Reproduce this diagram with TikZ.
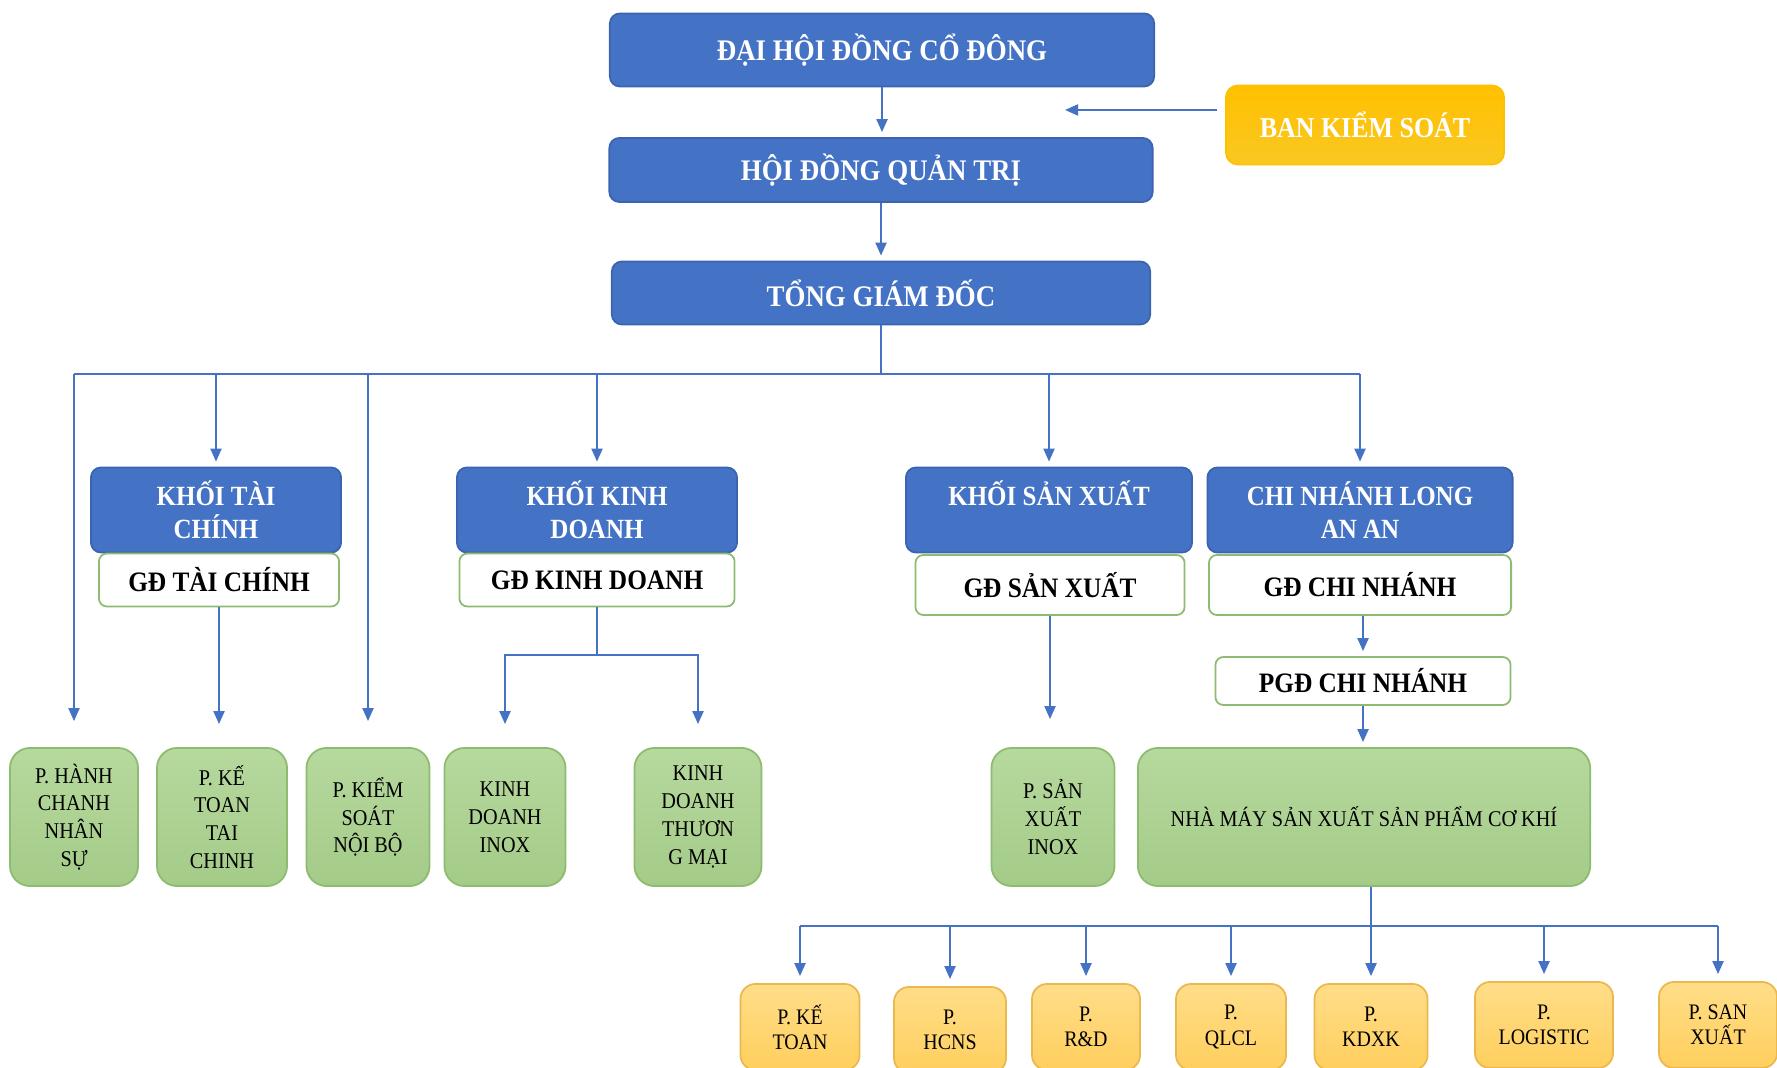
\documentclass[tikz,border=0pt]{standalone}
\usepackage{fontspec}
\setmainfont[FakeStretch=0.9]{Liberation Serif}
\usetikzlibrary{arrows.meta}
\definecolor{orgblue}{HTML}{4472C4}
\definecolor{orgblueline}{HTML}{3B64B0}
\definecolor{orggreen}{HTML}{8DBB6F}
\definecolor{depttop}{HTML}{B6D99E}
\definecolor{deptbot}{HTML}{A4CB88}
\definecolor{roomtop}{HTML}{FFDD88}
\definecolor{roombot}{HTML}{FFCF5E}
\definecolor{roomline}{HTML}{EBB84E}
\definecolor{ctrltop}{HTML}{FFC000}
\definecolor{ctrlbot}{HTML}{F9C822}
\tikzset{
  orgtop/.style={rounded corners=0.1cm, fill=orgblue, draw=orgblueline, line width=0.5pt,
    text=white, font=\bfseries\fontsize{8.5pt}{10pt}\selectfont, align=center, inner sep=0pt},
  orghead/.style={orgtop, font=\bfseries\fontsize{7.9pt}{9.4pt}\selectfont},
  orgdir/.style={rounded corners=0.08cm, fill=white, draw=orggreen, line width=0.5pt,
    font=\bfseries\fontsize{8pt}{9.6pt}\selectfont, align=center, inner sep=0pt},
  orgdept/.style={rounded corners=0.2cm, top color=depttop, bottom color=deptbot,
    draw=orggreen, line width=0.5pt, font=\fontsize{6.4pt}{7.9pt}\selectfont, align=center, inner sep=0pt,
    minimum height=1.38cm},
  orgroom/.style={rounded corners=0.15cm, top color=roomtop, bottom color=roombot,
    draw=roomline, line width=0.5pt, font=\fontsize{6.3pt}{7.2pt}\selectfont, align=center,
    inner sep=0pt, minimum height=0.86cm},
  orgctrl/.style={rounded corners=0.12cm, top color=ctrltop, bottom color=ctrlbot,
    draw=ctrltop, line width=0.5pt, text=white, font=\bfseries\fontsize{8.2pt}{10pt}\selectfont, inner sep=0pt},
  orglink/.style={draw=orgblue, line width=0.6pt},
  orgarrow/.style={orglink, -{Triangle[length=1.3mm,width=1.1mm]}},
}

\begin{document}
\begin{tikzpicture}[x=0.01cm, y=-0.01cm]
\clip (0,0) rectangle (1777,1068);
\fill[white] (0,0) rectangle (1777,1068);

% top of the chart
\node[orgtop, minimum width=5.44cm, minimum height=0.73cm] (dhdcd) at (882,50) {ĐẠI HỘI ĐỒNG CỔ ĐÔNG};
\node[orgtop, minimum width=5.43cm, minimum height=0.64cm] (hdqt) at (881,170) {HỘI ĐỒNG QUẢN TRỊ};
\node[orgtop, minimum width=5.38cm, minimum height=0.63cm] (tgd) at (881,293) {TỔNG GIÁM ĐỐC};
\node[orgctrl, minimum width=2.78cm, minimum height=0.79cm] (bks) at (1365,125) {BAN KIỂM SOÁT};
\coordinate (bksto) at (1065,110);

% blocks
\node[orghead, minimum width=2.50cm, minimum height=0.85cm] (ktc) at (216,510) {KHỐI TÀI\\CHÍNH};
\node[orgdir, minimum width=2.40cm, minimum height=0.53cm] (gdtc) at (219,580) {GĐ TÀI CHÍNH};
\node[orghead, minimum width=2.80cm, minimum height=0.85cm] (kkd) at (597,510) {KHỐI KINH\\DOANH};
\node[orgdir, minimum width=2.75cm, minimum height=0.53cm] (gdkd) at (597,580) {GĐ KINH DOANH};
\node[orghead, minimum width=2.86cm, minimum height=0.85cm] (ksx) at (1049,510) {KHỐI SẢN XUẤT\\\mbox{}};
\node[orgdir, minimum width=2.69cm, minimum height=0.60cm] (gdsx) at (1050,585) {GĐ SẢN XUẤT};
\node[orghead, minimum width=3.05cm, minimum height=0.85cm] (cn) at (1360,510) {CHI NHÁNH LONG\\AN AN};
\node[orgdir, minimum width=3.02cm, minimum height=0.60cm] (gdcn) at (1360,585) {GĐ CHI NHÁNH};
\node[orgdir, minimum width=2.95cm, minimum height=0.48cm] (pgdcn) at (1363,681) {PGĐ CHI NHÁNH};

% departments
\node[orgdept, minimum width=1.28cm] (hcns) at (74,817) {P. HÀNH\\CHANH\\NHÂN\\SỰ};
\node[orgdept, minimum width=1.30cm] (kttc) at (222,817) {P. KẾ\\TOAN\\TAI\\CHINH};
\node[orgdept, minimum width=1.23cm] (ksnb) at (368,817) {P. KIỂM\\SOÁT\\NỘI BỘ};
\node[orgdept, minimum width=1.21cm] (kdinox) at (505,817) {KINH\\DOANH\\INOX};
\node[orgdept, minimum width=1.27cm] (kdtm) at (698,817) {KINH\\DOANH\\THƯƠN\\G MẠI};
\node[orgdept, minimum width=1.23cm] (sxinox) at (1053,817) {P. SẢN\\XUẤT\\INOX};
\node[orgdept, minimum width=4.52cm] (nhamay) at (1364,817) {NHÀ MÁY SẢN XUẤT SẢN PHẨM CƠ KHÍ};

% rooms of the factory
\node[orgroom, minimum width=1.19cm] (pkt) at (800,1027) {P. KẾ\\TOAN};
\node[orgroom, minimum width=1.12cm] (phcns) at (950,1030) {P.\\HCNS};
\node[orgroom, minimum width=1.08cm] (prd) at (1086,1027) {P.\\R\&D};
\node[orgroom, minimum width=1.10cm] (pqlcl) at (1231,1027) {P.\\QLCL};
\node[orgroom, minimum width=1.13cm] (pkdxk) at (1371,1027) {P.\\KDXK};
\node[orgroom, minimum width=1.38cm] (plog) at (1544,1025) {P.\\LOGISTIC};
\node[orgroom, minimum width=1.18cm] (psx) at (1718,1025) {P. SAN\\XUẤT};

% connectors
\draw[orgarrow, shorten >=0.05cm] (dhdcd.south) -- (dhdcd.south |- hdqt.north);
\draw[orgarrow, shorten >=0.05cm] (hdqt.south) -- (tgd.north);
\draw[orgarrow, shorten <=0.08cm] (bks.west |- bksto) -- (bksto);

\coordinate (bus) at (881,374);
\draw[orglink] (tgd.south) -- (bus);
\draw[orglink] (bus -| hcns) -- (bus -| cn);
\draw[orgarrow, shorten >=0.26cm] (bus -| hcns) -- (hcns.north);
\draw[orgarrow, shorten >=0.26cm] (bus -| ksnb) -- (ksnb.north);
\foreach \blk in {ktc,kkd,ksx,cn}
  \draw[orgarrow, shorten >=0.05cm] (bus -| \blk) -- (\blk.north);

\draw[orgarrow, shorten >=0.23cm] (gdtc.south) -- (gdtc.south |- kttc.north);
\coordinate (kdsplit) at (597,655);
\draw[orglink] (gdkd.south) -- (kdsplit);
\draw[orgarrow, shorten >=0.23cm] (kdsplit) -| (kdinox.north);
\draw[orgarrow, shorten >=0.23cm] (kdsplit) -| (kdtm.north);
\draw[orgarrow, shorten >=0.28cm] (gdsx.south) -- (gdsx.south |- sxinox.north);
\draw[orgarrow, shorten >=0.05cm] (gdcn.south -| pgdcn) -- (pgdcn.north);
\draw[orgarrow, shorten >=0.05cm] (pgdcn.south) -- (pgdcn.south |- nhamay.north);

\coordinate (bus2) at (1371,926);
\draw[orglink] (nhamay.south -| bus2) -- (bus2);
\draw[orglink] (bus2 -| pkt) -- (bus2 -| psx);
\foreach \room in {pkt,phcns,prd,pqlcl,pkdxk,plog,psx}
  \draw[orgarrow, shorten >=0.07cm] (bus2 -| \room) -- (\room.north);
\end{tikzpicture}
\end{document}
